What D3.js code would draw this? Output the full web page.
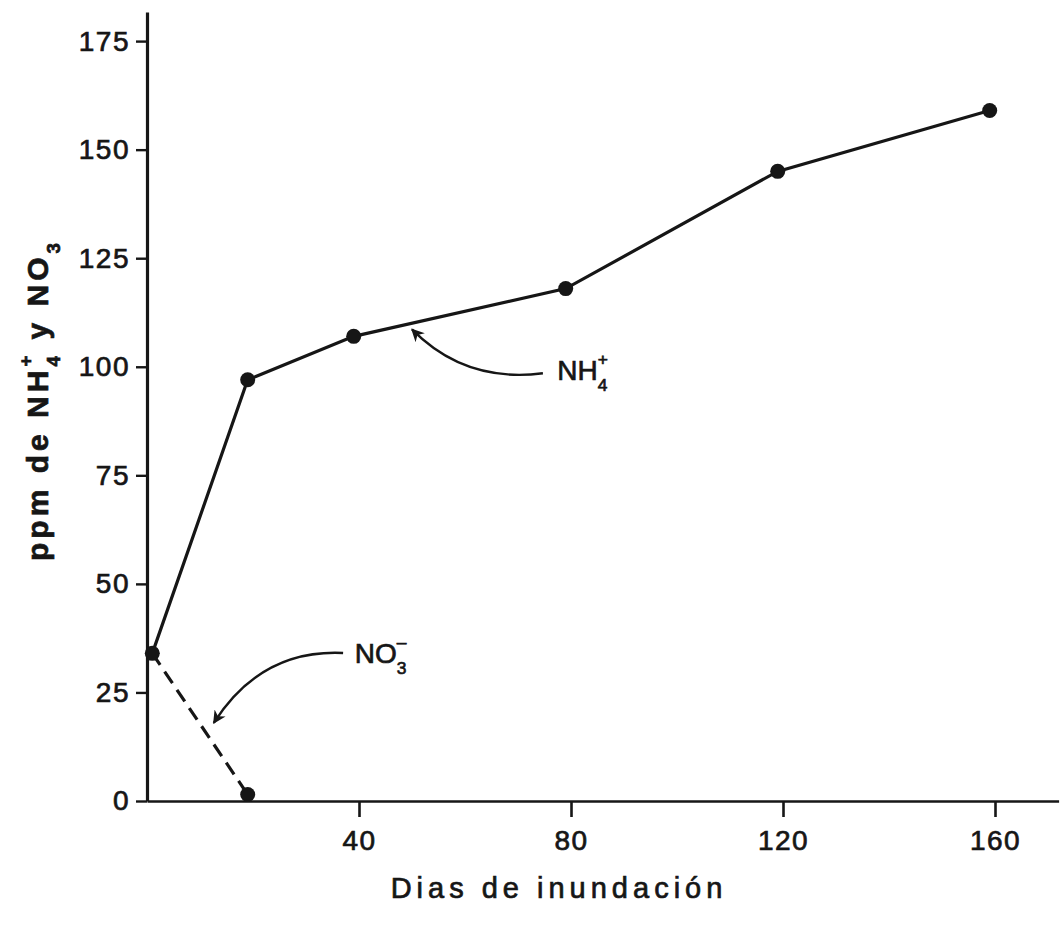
<!DOCTYPE html>
<html>
<head>
<meta charset="utf-8">
<script src="https://cdn.jsdelivr.net/npm/d3@7"></script>
<style>
  body { margin: 0; background: #fff; }
  svg { display: block; font-family: "Liberation Sans", Arial, sans-serif; }
  svg text { stroke: #161616; stroke-width: 0.7px; }
</style>
</head>
<body>
<script>
// Data (days of flooding vs ppm)
const nh4Days = [1, 19, 39, 79, 119, 159];
const nh4Ppm = [34, 97, 107, 118, 145, 159];
const no3Days = [1, 19];
const no3Ppm = [34, 1.5];
const yTicks = [0, 25, 50, 75, 100, 125, 150, 175];
const xTicks = [40, 80, 120, 160];

function renderChart() {
    const width = 1060;
    const height = 926;
    const ink = "#161616";

    const svg = d3.select("body").append("svg")
        .attr("width", width)
        .attr("height", height)
        .attr("viewBox", [0, 0, width, height]);

    // scales
    const x = d3.scaleLinear().domain([0, 172]).range([147, 147 + 172 * 5.3]);
    const y = d3.scaleLinear().domain([0, 181.7]).range([801, 12]);

    // arrow marker for the annotations
    svg.append("defs").append("marker")
        .attr("id", "arrow")
        .attr("viewBox", "0 0 10 10")
        .attr("refX", 9)
        .attr("refY", 5)
        .attr("markerWidth", 16)
        .attr("markerHeight", 13)
        .attr("markerUnits", "userSpaceOnUse")
        .attr("orient", "auto")
        .append("path")
        .attr("d", "M0,0L10,5L0,10L3,5Z")
        .attr("fill", ink);

    // x axis
    svg.append("g")
        .attr("transform", `translate(0,${y(0)})`)
        .call(d3.axisBottom(x).tickValues(xTicks).tickSize(16).tickSizeOuter(0).tickPadding(13))
        .call(g => g.select(".domain").attr("stroke", ink).attr("stroke-width", 2.6))
        .call(g => g.selectAll(".tick line").attr("stroke", ink).attr("stroke-width", 2.6))
        .call(g => g.selectAll(".tick text")
            .attr("fill", ink)
            .attr("font-size", 28)
            .attr("letter-spacing", 1.5)
            .attr("font-family", "Liberation Sans, Arial, sans-serif"));

    // y axis
    svg.append("g")
        .attr("transform", `translate(${x(0)},0)`)
        .call(d3.axisLeft(y).tickValues(yTicks).tickSize(11).tickSizeOuter(0).tickPadding(6))
        .call(g => g.select(".domain").attr("stroke", ink).attr("stroke-width", 3.2))
        .call(g => g.selectAll(".tick line").attr("stroke", ink).attr("stroke-width", 2.4))
        .call(g => g.selectAll(".tick text")
            .attr("fill", ink)
            .attr("font-size", 28)
            .attr("letter-spacing", 1.5)
            .attr("font-family", "Liberation Sans, Arial, sans-serif"));

    // series
    const nh4 = nh4Days.map((d, i) => ({ day: d, ppm: nh4Ppm[i] }));
    const no3 = no3Days.map((d, i) => ({ day: d, ppm: no3Ppm[i] }));

    const line = d3.line()
        .x(d => x(d.day))
        .y(d => y(d.ppm));

    svg.append("path")
        .datum(nh4)
        .attr("fill", "none")
        .attr("stroke", ink)
        .attr("stroke-width", 3.2)
        .attr("d", line);

    svg.append("path")
        .datum(no3)
        .attr("fill", "none")
        .attr("stroke", ink)
        .attr("stroke-width", 3.2)
        .attr("stroke-dasharray", "14,8")
        .attr("d", line);

    svg.selectAll(".dot")
        .data(nh4.concat(no3.slice(1)))
        .enter()
        .append("circle")
        .attr("class", "dot")
        .attr("cx", d => x(d.day))
        .attr("cy", d => y(d.ppm))
        .attr("r", 7.5)
        .attr("fill", ink);

    // text with stacked super/subscripts
    function richText(parent, px, py, parts, fs, opts) {
        const g = parent.append("g");
        let cx = 0;
        parts.forEach(p => {
            if (p.text != null) {
                const t = g.append("text")
                    .attr("x", cx)
                    .attr("y", 0)
                    .attr("font-size", fs)
                    .attr("font-weight", opts.weight || "normal")
                    .attr("letter-spacing", opts.spacing || 0)
                    .attr("fill", ink)
                    .style("white-space", "pre")
                    .text(p.text);
                cx += t.node().getComputedTextLength();
            } else {
                let w = 0;
                if (p.sup) {
                    const s = g.append("text")
                        .attr("x", cx).attr("y", -0.54 * fs)
                        .attr("font-size", fs * 0.62)
                        .attr("font-weight", opts.weight || "normal")
                        .attr("fill", ink)
                        .text(p.sup);
                    w = Math.max(w, s.node().getComputedTextLength());
                }
                if (p.sub) {
                    const s = g.append("text")
                        .attr("x", cx).attr("y", 0.39 * fs)
                        .attr("font-size", fs * 0.62)
                        .attr("font-weight", opts.weight || "normal")
                        .attr("fill", ink)
                        .text(p.sub);
                    w = Math.max(w, s.node().getComputedTextLength());
                }
                cx += w + (opts.spacing || 0);
            }
        });
        const shift = opts.anchor === "middle" ? -cx / 2 : 0;
        g.attr("transform", `translate(${px + shift},${py})`);
        return g;
    }

    // y axis title (rotated)
    const yTitle = svg.append("g").attr("transform", "translate(48,400) rotate(-90)");
    richText(yTitle, 0, 0, [
        { text: "ppm de NH" }, { sup: "+", sub: "4" }, { text: " y NO" }, { sub: "3" }
    ], 30, { weight: "bold", spacing: 4, anchor: "middle" });

    // x axis title
    svg.append("text")
        .attr("x", 559)
        .attr("y", 898)
        .attr("text-anchor", "middle")
        .attr("font-size", 29)
        .attr("letter-spacing", 5)
        .attr("fill", ink)
        .text("Dias de inundación");

    // annotation: NH4+
    richText(svg, x(77.4), y(96.9), [{ text: "NH" }, { sup: "+", sub: "4" }], 28, {});
    const p1 = d3.path();
    p1.moveTo(x(74.7), y(98.5));
    p1.quadraticCurveTo(x(60), y(96.2), x(50), y(108.6));
    svg.append("path")
        .attr("d", p1.toString())
        .attr("fill", "none")
        .attr("stroke", ink)
        .attr("stroke-width", 2.4)
        .attr("marker-end", "url(#arrow)");

    // annotation: NO3-
    richText(svg, x(39.2), y(31.8), [{ text: "NO" }, { sup: "\u2013", sub: "3" }], 28, {});
    const p2 = d3.path();
    p2.moveTo(x(37), y(34.1));
    p2.quadraticCurveTo(x(21.5), y(35), x(12.6), y(18.0));
    svg.append("path")
        .attr("d", p2.toString())
        .attr("fill", "none")
        .attr("stroke", ink)
        .attr("stroke-width", 2.4)
        .attr("marker-end", "url(#arrow)");
}

renderChart();
</script>
</body>
</html>
